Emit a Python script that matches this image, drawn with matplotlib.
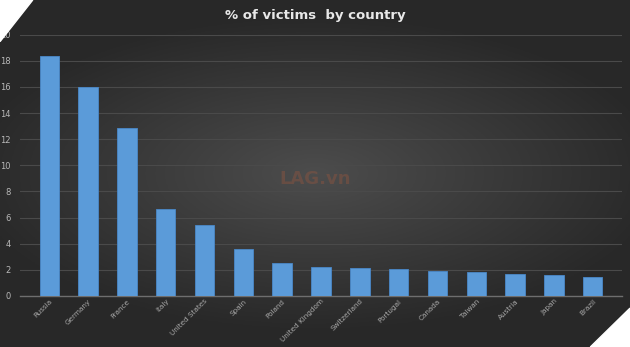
import numpy as np
import matplotlib.pyplot as plt
from matplotlib.patches import Polygon

# data
countries = ['Russia', 'Germany', 'France', 'Italy', 'United States', 'Spain',
             'Poland', 'United Kingdom', 'Switzerland', 'Portugal', 'Canada',
             'Taiwan', 'Austria', 'Japan', 'Brazil']
victims_pct = [18.35, 16.0, 12.85, 6.65, 5.45, 3.6, 2.5, 2.2, 2.15, 2.1,
               1.9, 1.85, 1.65, 1.6, 1.45]
y_ticks = [0, 2, 4, 6, 8, 10, 12, 14, 16, 18, 20]

fig = plt.figure(figsize=(6.3, 3.47), dpi=100)

# radial dark gradient background
bg = fig.add_axes([0, 0, 1, 1])
yy, xx = np.mgrid[-1:1:200j, -1:1:360j]
r = np.sqrt((xx / 1.1) ** 2 + (yy / 0.9) ** 2)
shade = np.clip(0.30 - 0.14 * r, 0.16, 0.30)
bg.imshow(np.dstack([shade] * 3), aspect='auto', extent=[0, 1, 0, 1])
bg.set_axis_off()

ax = fig.add_axes([0.032, 0.147, 0.955, 0.753])
ax.patch.set_alpha(0)
x = np.arange(len(countries))
ax.bar(x, victims_pct, width=0.5, color='#5b9bd9', edgecolor='#4a88c8',
       linewidth=0.6, zorder=3)

ax.set_xlim(-0.75, len(countries) - 0.25)
ax.set_ylim(0, 20)
ax.set_yticks(y_ticks)
ax.yaxis.grid(True, color='#4a4a4a', linewidth=0.8, zorder=0)
ax.tick_params(axis='y', length=0, labelsize=6, labelcolor='#b8b8b8', pad=7)
ax.set_xticks(x)
ax.set_xticklabels(countries, rotation=45, ha='right', rotation_mode='anchor',
                   fontsize=5.2, color='#a8a8a8')
ax.tick_params(axis='x', length=0, pad=1.5)
for side in ['top', 'right', 'left']:
    ax.spines[side].set_visible(False)
ax.spines['bottom'].set_color('#6e6e6e')
ax.spines['bottom'].set_linewidth(1)

fig.text(0.5, 0.955, '% of victims  by country', ha='center', va='center',
         fontsize=9.5, fontweight='bold', color='#e8e8e8')

# faint watermark
fig.text(0.5, 0.485, 'LAG.vn', ha='center', va='center', fontsize=13,
         fontweight='bold', color='#b05a3a', alpha=0.3)

# white cut corners as in the reference
fig.patches.append(Polygon([(0, 1), (0.052, 1), (0, 0.88)], closed=True,
                           transform=fig.transFigure, color='white', zorder=10))
fig.patches.append(Polygon([(1, 0), (1, 0.112), (0.937, 0)], closed=True,
                           transform=fig.transFigure, color='white', zorder=10))

fig.savefig('out.png', dpi=100)
